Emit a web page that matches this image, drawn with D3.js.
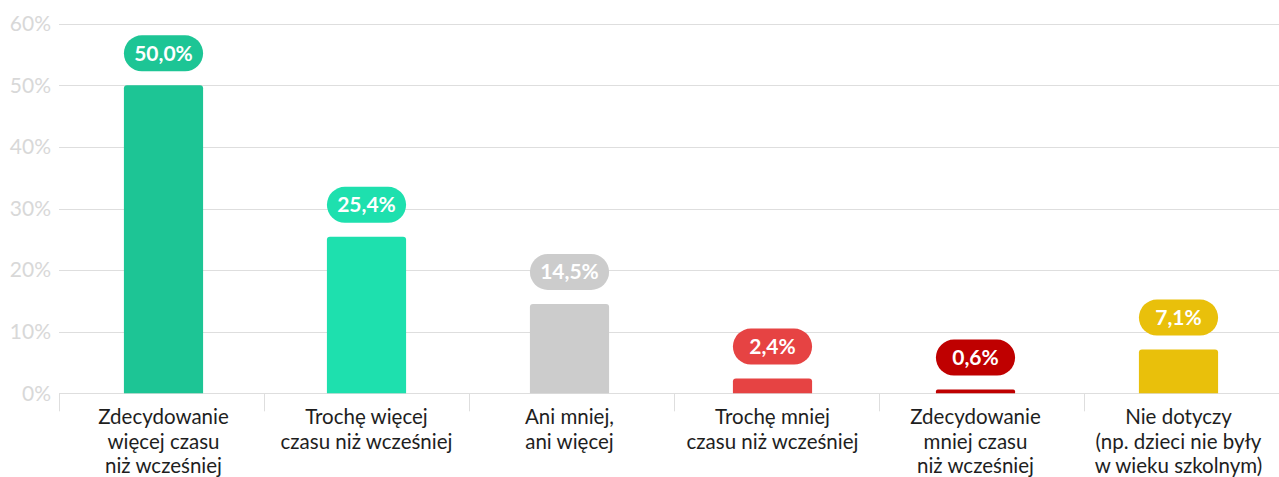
<!DOCTYPE html>
<html>
<head>
<meta charset="utf-8">
<script src="https://cdn.jsdelivr.net/npm/d3@7"></script>
<style>
  html, body { margin: 0; padding: 0; background: #fff; overflow: hidden; }
  svg { display: block; font-family: Lato, "Open Sans", sans-serif; }
</style>
</head>
<body>
<svg id="chart" width="1279" height="477"></svg>
<script>
const categories = [
  ["Zdecydowanie", "więcej czasu", "niż wcześniej"],
  ["Trochę więcej", "czasu niż wcześniej"],
  ["Ani mniej,", "ani więcej"],
  ["Trochę mniej", "czasu niż wcześniej"],
  ["Zdecydowanie", "mniej czasu", "niż wcześniej"],
  ["Nie dotyczy", "(np. dzieci nie były", "w wieku szkolnym)"]
];
const values = [50.0, 25.4, 14.5, 2.4, 0.6, 7.1];
const valueLabels = ["50,0%", "25,4%", "14,5%", "2,4%", "0,6%", "7,1%"];
const colors = ["#1DC595", "#1EE0AE", "#CCCCCC", "#E64343", "#BF0000", "#E9C00B"];
const yTicks = [0, 10, 20, 30, 40, 50, 60];

const svg = d3.select("#chart");
const W = 1279;
const plotLeft = 59, plotTop = 23.7, plotBottom = 393.3;

const ids = categories.map((c, i) => i);
const x = d3.scaleBand().domain(ids).range([62, 1280]).paddingInner(0.61).paddingOuter(0.305);
const xSep = d3.scaleBand().domain(ids).range([59, 59 + 6 * 205]);
const y = d3.scaleLinear().domain([0, 60]).range([plotBottom, plotTop]);

// gridlines
svg.append("g").selectAll("line").data(yTicks).join("line")
  .attr("x1", plotLeft).attr("x2", W)
  .attr("y1", d => Math.round(y(d)) + 0.5).attr("y2", d => Math.round(y(d)) + 0.5)
  .attr("stroke", "#dedede").attr("stroke-width", 1);

// y labels
svg.append("g").selectAll("text").data(yTicks).join("text")
  .attr("x", 51).attr("y", d => y(d))
  .attr("dy", "0.35em")
  .attr("text-anchor", "end")
  .attr("fill", "#d8d8d8")
  .attr("font-size", 21)
  .text(d => d + "%");

// category separators
svg.append("g").selectAll("line").data(ids).join("line")
  .attr("x1", d => Math.round(xSep(d)) + 0.5).attr("x2", d => Math.round(xSep(d)) + 0.5)
  .attr("y1", plotBottom).attr("y2", plotBottom + 18)
  .attr("stroke", "#dedede").attr("stroke-width", 1);

// bars with rounded top
const r = 3;
svg.append("g").selectAll("path").data(ids).join("path")
  .attr("fill", d => colors[d])
  .attr("d", d => {
    const x0 = x(d), w = x.bandwidth(), y0 = y(values[d]), y1 = y(0);
    const h = y1 - y0;
    const rr = Math.min(r, h / 2, w / 2);
    return `M${x0},${y1} L${x0},${y0 + rr} Q${x0},${y0} ${x0 + rr},${y0} L${x0 + w - rr},${y0} Q${x0 + w},${y0} ${x0 + w},${y0 + rr} L${x0 + w},${y1} Z`;
  });

// value badges
const badgeH = 36, gap = 14;
const badges = svg.append("g").selectAll("g").data(ids).join("g");
badges.append("rect")
  .attr("x", d => x(d))
  .attr("y", d => y(values[d]) - gap - badgeH)
  .attr("width", x.bandwidth())
  .attr("height", badgeH)
  .attr("rx", badgeH / 2).attr("ry", badgeH / 2)
  .attr("fill", d => colors[d]);
badges.append("text")
  .attr("x", d => x(d) + x.bandwidth() / 2)
  .attr("y", d => y(values[d]) - gap - badgeH / 2)
  .attr("dy", "0.35em")
  .attr("text-anchor", "middle")
  .attr("fill", "#fff")
  .attr("font-weight", 700)
  .attr("font-size", 21)
  .text(d => valueLabels[d]);

// category labels
const catG = svg.append("g").selectAll("text").data(ids).join("text")
  .attr("x", d => x(d) + x.bandwidth() / 2)
  .attr("y", 424)
  .attr("text-anchor", "middle")
  .attr("fill", "#1e1e1e")
  .attr("font-size", 20.5)
  .text(null);
catG.selectAll("tspan").data(d => categories[d].map(t => ({t, d}))).join("tspan")
  .attr("x", o => x(o.d) + x.bandwidth() / 2)
  .attr("dy", (o, i) => i === 0 ? 0 : 24.5)
  .text(o => o.t);
</script>
</body>
</html>
